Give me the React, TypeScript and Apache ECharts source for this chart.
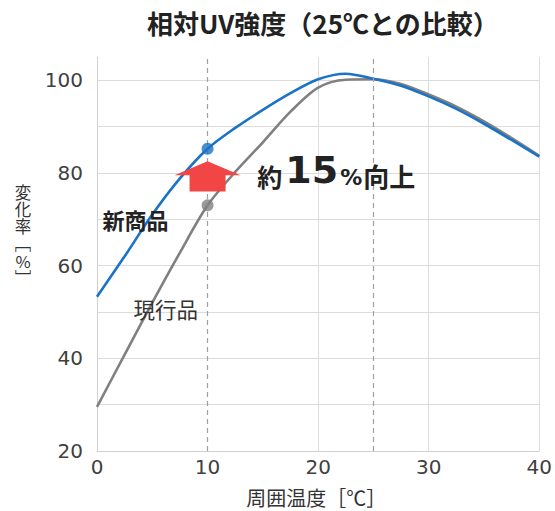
import React, { useEffect, useRef } from "react";
import * as echarts from "echarts";

const temps = [0, 2.5, 5, 7.5, 10, 12.5, 15, 17.5, 20, 22.5, 25, 27.5, 30, 32.5, 35, 37.5, 40];
const newProduct = [53.3, 62, 71, 78.8, 85.2, 89.7, 93.6, 97.2, 100.2, 101.4, 100.3, 98.8, 96.5, 93.8, 90.6, 87.1, 83.5];
const currentProduct = [29.5, 40.8, 52, 62.8, 73, 80.2, 86.6, 93.2, 98.4, 100.1, 100.2, 99.2, 96.9, 94.3, 91.1, 87.5, 83.7];
const compareTemp = 10;
const refTemp = 25;
const xTickHidden = [false, true, false, false, false];
const titleText = "相対UV強度（25℃との比較）";
const xName = "周囲温度［℃］";
const yNameChars = ["変", "化", "率", "﹇", "%", "﹈"];

const BLUE = "#1a73c6";
const GRAY = "#808080";
const GRID = "#dcdcdc";
const CJK = "'Noto Sans CJK JP', sans-serif";
const NUM = "'DejaVu Sans', sans-serif";

export default function App() {
  const ref = useRef<HTMLDivElement>(null);
  useEffect(() => {
    if (!ref.current) return;
    document.body.style.margin = "0";
    document.body.style.overflow = "hidden";
    const chart = echarts.init(ref.current, undefined, { renderer: "svg" });
    const ci = temps.indexOf(compareTemp);
    chart.setOption({
      animation: false,
      backgroundColor: "#fff",
      title: {
        text: titleText,
        left: 142,
        top: 4,
        textStyle: { fontFamily: CJK, fontSize: 26, fontWeight: "bold", color: "#222" },
      },
      grid: { left: 97, right: 15, top: 57, bottom: 60 },
      xAxis: {
        type: "value",
        min: 0,
        max: 40,
        interval: 10,
        axisLine: { show: true, lineStyle: { color: "#d0d0d0", width: 1 } },
        axisTick: { show: false },
        axisLabel: { color: "#404040", fontSize: 20, fontFamily: NUM, margin: 6 },
        splitLine: {
          show: true,
          lineStyle: {
            color: xTickHidden.map((h) => (h ? "rgba(0,0,0,0)" : GRID)),
            width: 1,
          },
        },
      },
      yAxis: {
        type: "value",
        min: 20,
        max: 105,
        interval: 10,
        axisLine: { show: true, lineStyle: { color: "#d0d0d0", width: 1 } },
        axisTick: { show: false },
        axisLabel: {
          color: "#404040",
          fontSize: 20,
          fontFamily: NUM,
          margin: 14,
          formatter: (v: number) => (v % 20 === 0 && v <= 100 ? String(v) : ""),
        },
        splitLine: { show: true, showMaxLine: false, lineStyle: { color: GRID, width: 1 } },
      },
      series: [
        {
          type: "line",
          data: [],
          z: 1,
          silent: true,
          markLine: {
            silent: true,
            symbol: "none",
            label: { show: false },
            lineStyle: { color: "#a0a0a0", type: [5, 4], width: 1.2 },
            data: [{ xAxis: compareTemp }, { xAxis: refTemp }],
          },
        },
        {
          name: "現行品",
          type: "line",
          data: temps.map((t, i) => [t, currentProduct[i]]),
          smooth: 0.3,
          showSymbol: false,
          lineStyle: { color: GRAY, width: 2.6 },
          z: 3,
        },
        {
          name: "新商品",
          type: "line",
          data: temps.map((t, i) => [t, newProduct[i]]),
          smooth: 0.3,
          showSymbol: false,
          lineStyle: { color: BLUE, width: 2.6 },
          z: 4,
        },
        {
          type: "scatter",
          data: [[compareTemp, currentProduct[ci]]],
          symbolSize: 12,
          itemStyle: { color: GRAY },
          z: 5,
        },
        {
          type: "scatter",
          data: [[compareTemp, newProduct[ci]]],
          symbolSize: 12,
          itemStyle: { color: BLUE },
          z: 5,
        },
      ],
    });

    const px = (x: number, y: number) => chart.convertToPixel({ gridIndex: 0 }, [x, y]) as number[];
    const c = px(compareTemp, 82.5);
    const cx = c[0];
    const tipY = c[1];
    const shoulderY = px(compareTemp, 79.5)[1];
    const bottomY = px(compareTemp, 76)[1];
    const labelPos = px(14.5, 80.7);
    const newLabel = px(0.5, 70);
    const curLabel = px(3.3, 50.8);
    const xNamePos = px(20, 20);

    const yNameItems = yNameChars.map((ch, i) => ({
      type: "text",
      z: 10,
      x: 23,
      y: 191.5 + i * 17.3,
      style: {
        text: ch,
        fontFamily: CJK,
        fontSize: 16.5,
        fill: "#333",
        align: "center",
        verticalAlign: "middle",
      },
    }));

    chart.setOption({
      graphic: [
        {
          type: "polygon",
          z: 10,
          shape: {
            points: [
              [cx, tipY],
              [cx + 33, shoulderY],
              [cx + 18, shoulderY],
              [cx + 18, bottomY],
              [cx - 18, bottomY],
              [cx - 18, shoulderY],
              [cx - 33, shoulderY],
            ],
          },
          style: { fill: "#f24545" },
        },
        {
          type: "text",
          z: 10,
          x: labelPos[0],
          y: labelPos[1],
          style: {
            text: "{a|約}{b|15}{c|%}{d|向上}",
            verticalAlign: "middle",
            rich: {
              a: { fontFamily: CJK, fontSize: 25, fontWeight: "bold", fill: "#222", verticalAlign: "bottom", lineHeight: 36, padding: [0, 3, 0, 0] },
              b: { fontFamily: NUM, fontSize: 38, fontWeight: "bold", fill: "#222", verticalAlign: "bottom", lineHeight: 38 },
              c: { fontFamily: NUM, fontSize: 22, fontWeight: "bold", fill: "#222", verticalAlign: "bottom", lineHeight: 32, padding: [0, 1, 0, 2] },
              d: { fontFamily: CJK, fontSize: 26, fontWeight: "bold", fill: "#222", verticalAlign: "bottom", lineHeight: 36 },
            },
          },
        },
        {
          type: "text",
          z: 10,
          x: newLabel[0],
          y: newLabel[1],
          style: {
            text: "新商品",
            fontFamily: CJK,
            fontSize: 22,
            fontWeight: "bold",
            fill: "#222",
            verticalAlign: "middle",
          },
        },
        {
          type: "text",
          z: 10,
          x: curLabel[0],
          y: curLabel[1],
          style: {
            text: "現行品",
            fontFamily: CJK,
            fontSize: 21.5,
            fill: "#333",
            verticalAlign: "middle",
          },
        },
        {
          type: "text",
          z: 10,
          x: xNamePos[0] - 2,
          y: 497,
          style: {
            text: xName,
            fontFamily: CJK,
            fontSize: 20,
            fill: "#333",
            align: "center",
            verticalAlign: "middle",
          },
        },
        ...yNameItems,
      ],
    });

    return () => chart.dispose();
  }, []);
  return <div ref={ref} style={{ position: "fixed", left: 0, top: 0, width: 555, height: 511 }} />;
}
